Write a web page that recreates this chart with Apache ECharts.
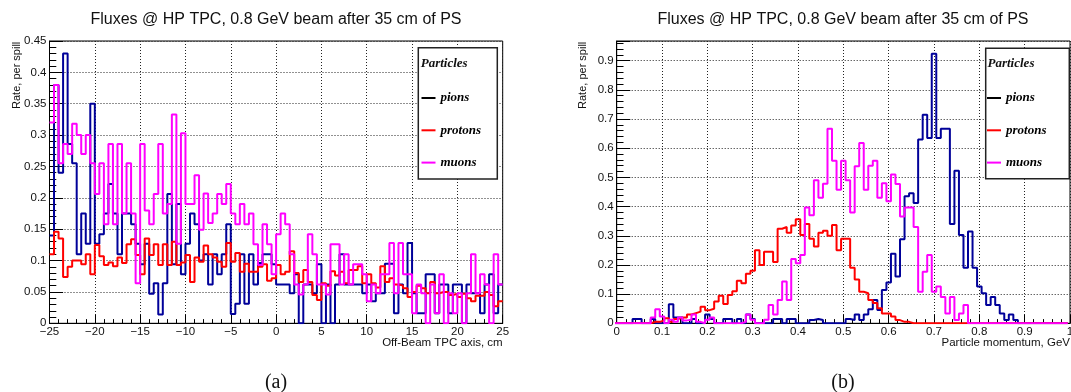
<!DOCTYPE html>
<html><head><meta charset="utf-8">
<script src="https://cdn.jsdelivr.net/npm/echarts@6/dist/echarts.min.js"></script>
<style>html,body{margin:0;padding:0;background:#fff}#c{width:1071px;height:392px}</style>
</head><body><div id="c"></div>
<script>
// ---------------- data ----------------
const seriesNames = ['pions', 'protons', 'muons'];
const titleText = 'Fluxes @ HP TPC, 0.8 GeV beam after 35 cm of PS';
const yTitle = 'Rate, per spill';
const xTitleA = 'Off-Beam TPC axis, cm';
const xTitleB = 'Particle momentum, GeV';
const captions = ['(a)', '(b)'];

// panel (a): 100 bins, -25 .. 25 cm
const binStartA = -25, binWidthA = 0.5;
const xRangeA = [-25, 25], yRangeA = [0, 0.45];
const pionsA = [0.14,0.38,0.24,0.43,0.286,0.255,0.11,0.175,0.127,0.35,
 0.127,0.142,0.175,0.222,0.175,0.11,0.175,0.175,0.158,0.127,
 0.094,0.127,0.047,0.064,0.014,0.064,0.206,0.094,0.19,0.078,
 0.127,0.175,0.158,0.10,0.11,0.062,0.11,0.078,0.11,0.158,
 0.015,0.031,0.11,0.031,0.11,0.062,0.096,0.11,0.11,0.094,
 0.062,0.062,0.062,0.048,0.078,0,0.062,0.062,0.048,0.094,
 0,0.062,0,0.062,0.11,0.062,0.062,0.062,0.062,0.048,
 0.062,0.035,0.048,0.048,0.095,0.095,0.016,0.062,0.048,0.128,
 0.048,0.016,0.016,0.078,0.078,0.016,0.062,0.062,0.016,0.062,
 0.062,0,0.062,0.048,0.048,0.016,0.062,0.078,0.016,0.062];
const protonsA = [0.11,0.146,0.135,0.074,0.09,0.1,0.1,0.094,0.11,0.078,
 0.125,0.107,0.093,0.097,0.091,0.105,0.096,0.126,0.134,0.109,
 0.078,0.135,0.109,0.126,0.093,0.126,0.093,0.13,0.093,0.097,
 0.109,0.066,0.105,0.098,0.124,0.11,0.105,0.098,0.09,0.128,
 0.098,0.112,0.082,0.095,0.082,0.082,0.09,0.094,0.068,0.072,
 0.093,0.078,0.082,0.115,0.08,0.066,0.085,0.066,0.045,0.037,
 0.064,0.06,0.083,0.076,0.082,0.064,0.085,0.085,0.091,0.064,
 0.078,0.064,0.057,0.091,0.066,0.072,0.062,0.06,0.056,0.042,
 0.05,0.06,0.056,0.048,0.066,0.048,0.05,0.05,0.045,0.047,
 0.042,0.047,0.04,0.035,0.044,0.044,0.05,0.045,0.027,0.035];
const muonsA = [0.32,0.38,0.255,0.286,0.27,0.318,0.30,0.27,0.30,0.255,
 0.206,0.255,0.158,0.286,0.158,0.286,0.175,0.255,0.175,0.064,
 0.286,0.18,0.158,0.206,0.286,0.175,0.19,0.333,0.127,0.303,
 0.19,0.19,0.236,0.149,0.207,0.16,0.175,0.206,0.19,0.222,
 0.175,0.158,0.19,0.158,0.175,0.126,0.093,0.158,0.126,0.078,
 0.142,0.175,0.158,0.11,0.062,0.046,0.062,0.142,0.11,0.062,
 0.062,0.046,0.126,0.126,0.062,0.11,0.062,0.094,0.094,0.078,
 0.035,0.062,0.048,0.078,0.078,0.128,0.048,0.128,0.078,0.078,
 0.016,0.062,0.048,0,0.062,0.016,0.078,0,0.048,0.016,
 0.048,0,0.048,0.11,0.048,0.078,0.062,0,0.11,0.062];

// panel (b): 100 bins of 0.01 GeV, centred on multiples of 0.01
const binStartB = -0.005, binWidthB = 0.01;
const xRangeB = [0, 1], yRangeB = [0, 0.9675];
const pionsB = [0,0,0,0,0.015,0.015,0,0,0.015,0,
 0,0,0.065,0.02,0.02,0,0,0.015,0,0,
 0.03,0.015,0,0,0.015,0.015,0,0.015,0,0.03,
 0.015,0,0,0,0,0.015,0.015,0,0.015,0.015,
 0,0,0,0.011,0.015,0.011,0,0,0,0,
 0,0.015,0.011,0.03,0.011,0.03,0.048,0.08,0.046,0.114,
 0.14,0.238,0.16,0.288,0.435,0.446,0.412,0.63,0.715,0.635,
 0.924,0.635,0.667,0.667,0.34,0.523,0.303,0.19,0.315,0.19,
 0.126,0.103,0.063,0.09,0.063,0.034,0.011,0.03,0.011,0,
 0,0,0,0,0,0,0,0,0,0];
const protonsB = [0,0,0,0,0,0,0,0,0.005,0.005,
 0.01,0.017,0.005,0.015,0.02,0.02,0.03,0.035,0.04,0.057,
 0.045,0.05,0.075,0.094,0.066,0.097,0.11,0.146,0.137,0.17,
 0.18,0.25,0.2,0.245,0.245,0.21,0.324,0.33,0.31,0.335,
 0.357,0.303,0.34,0.29,0.263,0.31,0.317,0.30,0.337,0.25,
 0.29,0.29,0.19,0.15,0.108,0.103,0.08,0.07,0.052,0.034,
 0.034,0.023,0.011,0.005,0.005,0,0,0,0,0,
 0,0,0,0,0,0,0,0,0,0,
 0,0,0,0,0,0,0,0,0,0,
 0,0,0,0,0,0,0,0,0,0];
const muonsB = [0,0,0,0,0,0,0,0,0.02,0.048,
 0.023,0,0.012,0.005,0.02,0.01,0.012,0.03,0.005,0,
 0.012,0.02,0,0,0,0,0,0,0.005,0.03,
 0.012,0,0,0.012,0.063,0.03,0.08,0.143,0.08,0.22,
 0.206,0.234,0.397,0.37,0.49,0.43,0.478,0.667,0.557,0.458,
 0.557,0.49,0.38,0.538,0.618,0.458,0.54,0.557,0.43,0.48,
 0.418,0.51,0.477,0.366,0.397,0.397,0.33,0.108,0.177,0.234,
 0.108,0.126,0.09,0.034,0.09,0.011,0.034,0.063,0,0,
 0,0,0,0,0,0,0,0,0,0,
 0,0,0,0,0,0,0,0,0,0];

// ---------------- styling ----------------
const colors = { pions: '#000099', protons: '#ff0000', muons: '#ff00ff' };
const legendColors = { pions: '#000000', protons: '#ff0000', muons: '#ff00ff' };
const SANS = 'Liberation Sans, Arial, sans-serif';
const SERIF = 'Liberation Serif, Times New Roman, serif';

function histPoints(start, width, values) {
  const pts = values.map((v, i) => [start + i * width, v]);
  pts.push([start + values.length * width, values[values.length - 1]]);
  return pts;
}

const gridsPx = [
  { left: 49.5, top: 41, width: 453.2, height: 282.3 },
  { left: 616.7, top: 41, width: 453.3, height: 282.3 }
];

function xAxisCfg(idx, range, interval, fmt) {
  return {
    type: 'value', gridIndex: idx, min: range[0], max: range[1], interval: interval,
    axisLine: { show: true, onZero: false, lineStyle: { color: '#000', width: 1 } },
    axisTick: { show: true, inside: true, length: 8.5, lineStyle: { color: '#000', width: 1 } },
    minorTick: { show: true, splitNumber: 5, length: 4.2, lineStyle: { color: '#000', width: 1 } },
    axisLabel: { color: '#111', fontSize: 11.5, fontFamily: SANS, margin: 3, formatter: fmt, showMaxLabel: true, showMinLabel: true, hideOverlap: false },
    splitLine: { show: true, lineStyle: { type: [1, 2], color: '#222', width: 1 } }
  };
}
function yAxisCfg(idx, range, interval) {
  return {
    type: 'value', gridIndex: idx, min: range[0], max: range[1], interval: interval,
    axisLine: { show: true, onZero: false, lineStyle: { color: '#000', width: 1 } },
    axisTick: { show: true, inside: true, length: 13.6, lineStyle: { color: '#000', width: 1 } },
    minorTick: { show: true, splitNumber: 5, length: 6.8, lineStyle: { color: '#000', width: 1 } },
    axisLabel: { color: '#111', fontSize: 11.5, fontFamily: SANS, margin: 3, showMaxLabel: idx === 0, hideOverlap: false },
    splitLine: { show: true, lineStyle: { type: [1, 2], color: '#222', width: 1 } }
  };
}

const minusFmt = v => (v < 0 ? '\u2212' + Math.abs(v) : String(v));

const panelData = [
  { start: binStartA, width: binWidthA, vals: { pions: pionsA, protons: protonsA, muons: muonsA } },
  { start: binStartB, width: binWidthB, vals: { pions: pionsB, protons: protonsB, muons: muonsB } }
];

const series = [];
panelData.forEach((p, gi) => {
  seriesNames.forEach(n => {
    series.push({
      name: n, type: 'line', step: 'end', xAxisIndex: gi, yAxisIndex: gi,
      symbol: 'none', showSymbol: false, animation: false, clip: true,
      lineStyle: { color: colors[n], width: 2 }, itemStyle: { color: colors[n] },
      data: histPoints(p.start, p.width, p.vals[n])
    });
  });
});

function legendCfg(left) {
  return {
    left: left, top: 91.5, orient: 'vertical', itemWidth: 14, itemHeight: 2, itemGap: 19.3,
    padding: 0, icon: 'rect', selectedMode: false, z: 20,
    textStyle: { fontFamily: SERIF, fontStyle: 'italic', fontWeight: 'bold', fontSize: 13, color: '#000' },
    data: seriesNames.map(n => ({ name: n, icon: 'rect', itemStyle: { color: legendColors[n], borderWidth: 0 } }))
  };
}

function textEl(x, y, text, font, align, vAlign, rot) {
  return {
    type: 'text', x: x, y: y, rotation: rot || 0, z: 30,
    style: { text: text, font: font, fill: '#111', textAlign: align, align: align,
             textVerticalAlign: vAlign, verticalAlign: vAlign }
  };
}

const graphics = [
  { type: 'rect', z: 15, shape: { x: 418.3, y: 47.7, width: 79, height: 131.3 },
    style: { fill: '#fff', stroke: '#222', lineWidth: 1.5 } },
  { type: 'rect', z: 15, shape: { x: 985.7, y: 48.3, width: 83.6, height: 130.4 },
    style: { fill: '#fff', stroke: '#222', lineWidth: 1.5 } },
  textEl(420.7, 64, 'Particles', 'italic bold 13px ' + SERIF, 'left', 'middle'),
  textEl(987.5, 63.5, 'Particles', 'italic bold 13px ' + SERIF, 'left', 'middle'),
  textEl(276, 20, titleText, '16px ' + SANS, 'center', 'middle'),
  textEl(843, 20, titleText, '16px ' + SANS, 'center', 'middle'),
  textEl(17.3, 41.7, yTitle, '11px ' + SANS, 'right', 'middle', Math.PI / 2),
  textEl(583.3, 41.7, yTitle, '11px ' + SANS, 'right', 'middle', Math.PI / 2),
  textEl(502.7, 343, xTitleA, '11.5px ' + SANS, 'right', 'middle'),
  textEl(1070, 343, xTitleB, '11.5px ' + SANS, 'right', 'middle'),
  textEl(276, 383, captions[0], '20px ' + SERIF, 'center', 'middle'),
  textEl(843, 383, captions[1], '20px ' + SERIF, 'center', 'middle')
];

const chart = echarts.init(document.getElementById('c'), null, { renderer: 'canvas' });
chart.setOption({
  backgroundColor: '#fff',
  animation: false,
  grid: gridsPx.map(g => Object.assign({ show: true, borderColor: '#000', borderWidth: 1, backgroundColor: 'transparent', containLabel: false, outerBoundsMode: 'none' }, g)),
  xAxis: [xAxisCfg(0, xRangeA, 5, minusFmt), xAxisCfg(1, xRangeB, 0.1)],
  yAxis: [yAxisCfg(0, yRangeA, 0.05), yAxisCfg(1, yRangeB, 0.1)],
  legend: [legendCfg(421.5), legendCfg(987)],
  series: series,
  graphic: { elements: graphics }
});
</script></body></html>
